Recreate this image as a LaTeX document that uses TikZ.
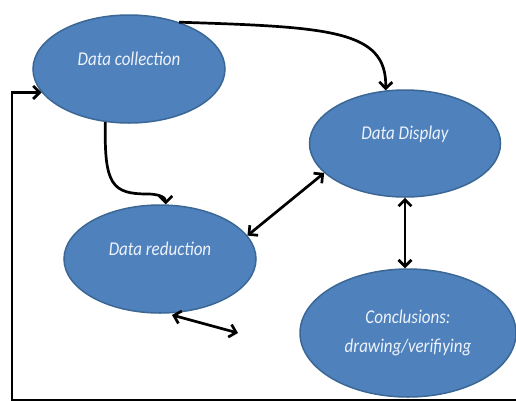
\documentclass[tikz,border=0pt]{standalone}
\usepackage{fontspec}
\newfontfamily\stagefont[FakeStretch=0.87]{Carlito}
\usetikzlibrary{arrows.meta,shapes}
\definecolor{stageblue}{HTML}{4F81BD}
\definecolor{stageedge}{HTML}{3B6795}
\definecolor{stagetext}{HTML}{EEF3FA}
\tikzstyle{stage}=[ellipse,draw=stageedge,line width=1.5pt,fill=stageblue,
                text=stagetext,inner sep=0pt,minimum width=192pt,minimum height=108pt,
                font=\stagefont\itshape\fontsize{19.5}{29}\selectfont,
                text height=14pt,text depth=22pt]
\tikzstyle{flow}=[->,>={Straight Barb[length=6.5pt,width=13pt]},line width=2.7pt]
\tikzstyle{both}=[<->,>={Straight Barb[length=6.5pt,width=13pt]},line width=2.7pt]

\begin{document}
\begin{tikzpicture}[x=1pt,y=-1pt]
\useasboundingbox (0,0) rectangle (516,400);

\node[stage] (coll) at (129,69) {Data collection};
\node[stage,minimum width=191pt,minimum height=107pt] (disp) at (405,143.5) {Data Display};
\node[stage] (red) at (160,259) {Data reduction};
\node[stage,minimum width=216pt,minimum height=128pt,align=center,
      text height=,text depth=] (conc) at (408,333) {Conclusions:\\drawing/verifiying};

\coordinate (fa) at (172,315);
\coordinate (fb) at (238,333);
\coordinate (loop) at (516,400);

\path[both]
(red.15) edge (disp.200)
(disp.south) edge (disp.south |- conc.north)
(fa) edge (fb)
;
\draw[flow] (coll.43) .. controls (330,27) and (387,30) .. (disp.110);
\draw[flow] (coll.246) .. controls (104,185) and (112,194) .. (148,194) to[out=0,in=90] (red.84);
%feedback loop
\draw[flow] (loop) -- (12,400) |- (coll.195);
\end{tikzpicture}
\end{document}
